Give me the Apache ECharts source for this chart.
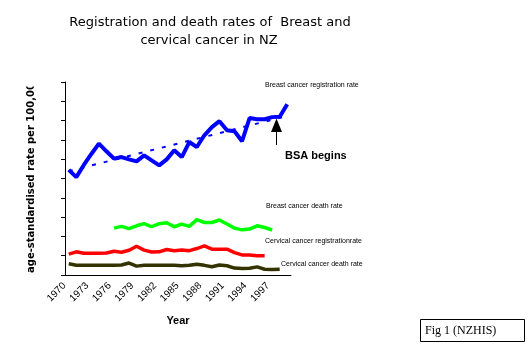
<!DOCTYPE html>
<html>
<head>
<meta charset="utf-8">
<script src="https://cdn.jsdelivr.net/npm/echarts@6/dist/echarts.min.js"></script>
<style>
html,body{margin:0;padding:0;background:#fff;}
#chart{width:529px;height:360px;}
</style>
</head>
<body>
<div id="chart"></div>
<script>
// ---- data ----
const years = [];
for (let y = 1970; y <= 1999; y++) years.push(String(y));

const breastRegStart = 1970;
const breastReg = [54.5, 50.7, 57.0, 62.7, 68.1, 64.1, 60.3, 61.1, 59.9, 58.9,
                   62.0, 59.4, 56.8, 59.9, 64.6, 61.1, 68.9, 66.3, 72.4, 76.6,
                   79.7, 75.0, 74.5, 69.3, 81.3, 80.7, 80.7, 81.8, 82.0, 88.5];

const trendYears = ['1970', '1999'];
const trendValues = [53.8, 82.4];

const breastDeathStart = 1976;
const breastDeath = [24.3, 25.2, 24.0, 25.5, 26.6, 25.0, 26.6, 27.1, 25.0, 26.4,
                     25.2, 28.7, 27.2, 27.2, 28.5, 26.4, 24.3, 23.4, 23.8, 25.5,
                     24.6, 23.3];

const cervRegStart = 1970;
const cervReg = [10.8, 12.0, 11.3, 11.3, 11.3, 11.4, 12.3, 11.8, 12.8, 14.9,
                 12.9, 11.9, 12.0, 13.2, 12.6, 13.0, 12.6, 13.7, 15.1, 13.4,
                 13.4, 13.4, 11.6, 10.4, 10.4, 10.0, 10.0];

const cervDeathStart = 1970;
const cervDeath = [5.8, 5.1, 5.0, 5.0, 5.0, 5.0, 5.0, 5.2, 6.2, 4.6,
                   5.0, 5.0, 5.0, 5.0, 5.0, 4.8, 5.0, 5.6, 5.0, 4.3,
                   5.2, 4.8, 3.6, 3.4, 3.5, 4.2, 3.0, 2.9, 3.0];

const yMin = 0, yMax = 100, yStep = 10;

function pairs(start, vals) {
  return vals.map((v, i) => [String(start + i), v]);
}

const chart = echarts.init(document.getElementById('chart'), null, {renderer: 'canvas'});

const lineSeries = (name, data, color, width, z) => ({
  name, type: 'line', data, symbol: 'none', z,
  lineStyle: {color, width},
  itemStyle: {color},
  animation: false
});

chart.setOption({
  animation: false,
  backgroundColor: '#fff',
  grid: {left: 65, top: 82, width: 226, height: 193},
  xAxis: {
    type: 'category', data: years, boundaryGap: true,
    axisLine: {lineStyle: {color: '#000', width: 1}},
    axisTick: {interval: 0, length: 4, lineStyle: {color: '#000'}},
    axisLabel: {
      interval: (idx) => idx % 3 === 0,
      rotate: 45, margin: 5, color: '#000', padding: [0, 6, 0, 0],
      fontFamily: 'Liberation Sans', fontSize: 10
    },
    splitLine: {show: false}
  },
  yAxis: {
    type: 'value', min: yMin, max: yMax, interval: yStep,
    axisLine: {show: true, lineStyle: {color: '#000', width: 1}},
    axisTick: {show: true, length: 4, lineStyle: {color: '#000'}},
    axisLabel: {show: false},
    splitLine: {show: false}
  },
  series: [
    Object.assign(lineSeries('Trend', trendYears.map((y, i) => [y, trendValues[i]]), '#0000ff', 2, 2),
      {lineStyle: {color: '#0000ff', width: 2, type: [4, 8]}}),
    lineSeries('Cervical cancer death rate', pairs(cervDeathStart, cervDeath), '#333300', 3.5, 3),
    lineSeries('Cervical cancer registration rate', pairs(cervRegStart, cervReg), '#ff0000', 3.5, 3),
    lineSeries('Breast cancer death rate', pairs(breastDeathStart, breastDeath), '#00ff00', 3.5, 3),
    lineSeries('Breast cancer registration rate', pairs(breastRegStart, breastReg), '#0000ff', 4, 4)
  ],
  graphic: [
    {type: 'text', z: 10, style: {text: 'Registration and death rates of  Breast and', x: 210, y: 23,
      textAlign: 'center', textVerticalAlign: 'middle', font: '13px "DejaVu Sans"', fill: '#000'}},
    {type: 'text', z: 10, style: {text: 'cervical cancer in NZ', x: 209, y: 41,
      textAlign: 'center', textVerticalAlign: 'middle', font: '13px "DejaVu Sans"', fill: '#000'}},
    {type: 'text', z: 10, x: 31, y: 273, rotation: Math.PI / 2, style: {text: 'age-standardised rate per 100,000',
      x: 0, y: 0, textAlign: 'left', textVerticalAlign: 'middle', font: 'bold 10px "DejaVu Sans"', fill: '#000'}},
    {type: 'rect', z: 11, shape: {x: 18, y: 0, width: 28, height: 86.5}, style: {fill: '#fff'}},
    {type: 'text', z: 10, style: {text: 'Year', x: 178, y: 321, textAlign: 'center', textVerticalAlign: 'middle',
      font: 'bold 11px "Liberation Sans"', fill: '#000'}},
    {type: 'text', z: 10, style: {text: 'Breast cancer registration rate', x: 265, y: 85, textVerticalAlign: 'middle',
      font: '7px "Liberation Sans"', fill: '#000'}},
    {type: 'text', z: 10, style: {text: 'Breast cancer death rate', x: 266, y: 206, textVerticalAlign: 'middle',
      font: '7px "Liberation Sans"', fill: '#000'}},
    {type: 'text', z: 10, style: {text: 'Cervical cancer registrationrate', x: 265, y: 241.5, textVerticalAlign: 'middle',
      font: '7px "Liberation Sans"', fill: '#000'}},
    {type: 'text', z: 10, style: {text: 'Cervical cancer death rate', x: 281, y: 264, textVerticalAlign: 'middle',
      font: '7px "Liberation Sans"', fill: '#000'}},
    {type: 'text', z: 10, style: {text: 'BSA begins', x: 285, y: 156, textVerticalAlign: 'middle',
      font: 'bold 11px "Liberation Sans"', fill: '#000'}},
    {type: 'line', z: 10, shape: {x1: 276.5, y1: 145, x2: 276.5, y2: 131}, style: {stroke: '#000', lineWidth: 1}},
    {type: 'polygon', z: 10, shape: {points: [[271, 132], [282, 132], [276.5, 118.5]]}, style: {fill: '#000'}},
    {type: 'rect', z: 10, shape: {x: 420.5, y: 319.5, width: 104, height: 22}, style: {fill: '#fff', stroke: '#000', lineWidth: 1}},
    {type: 'text', z: 12, style: {text: 'Fig 1 (NZHIS)', x: 425, y: 331, textVerticalAlign: 'middle',
      font: '12px "Liberation Serif"', fill: '#000'}}
  ]
});
</script>
</body>
</html>
